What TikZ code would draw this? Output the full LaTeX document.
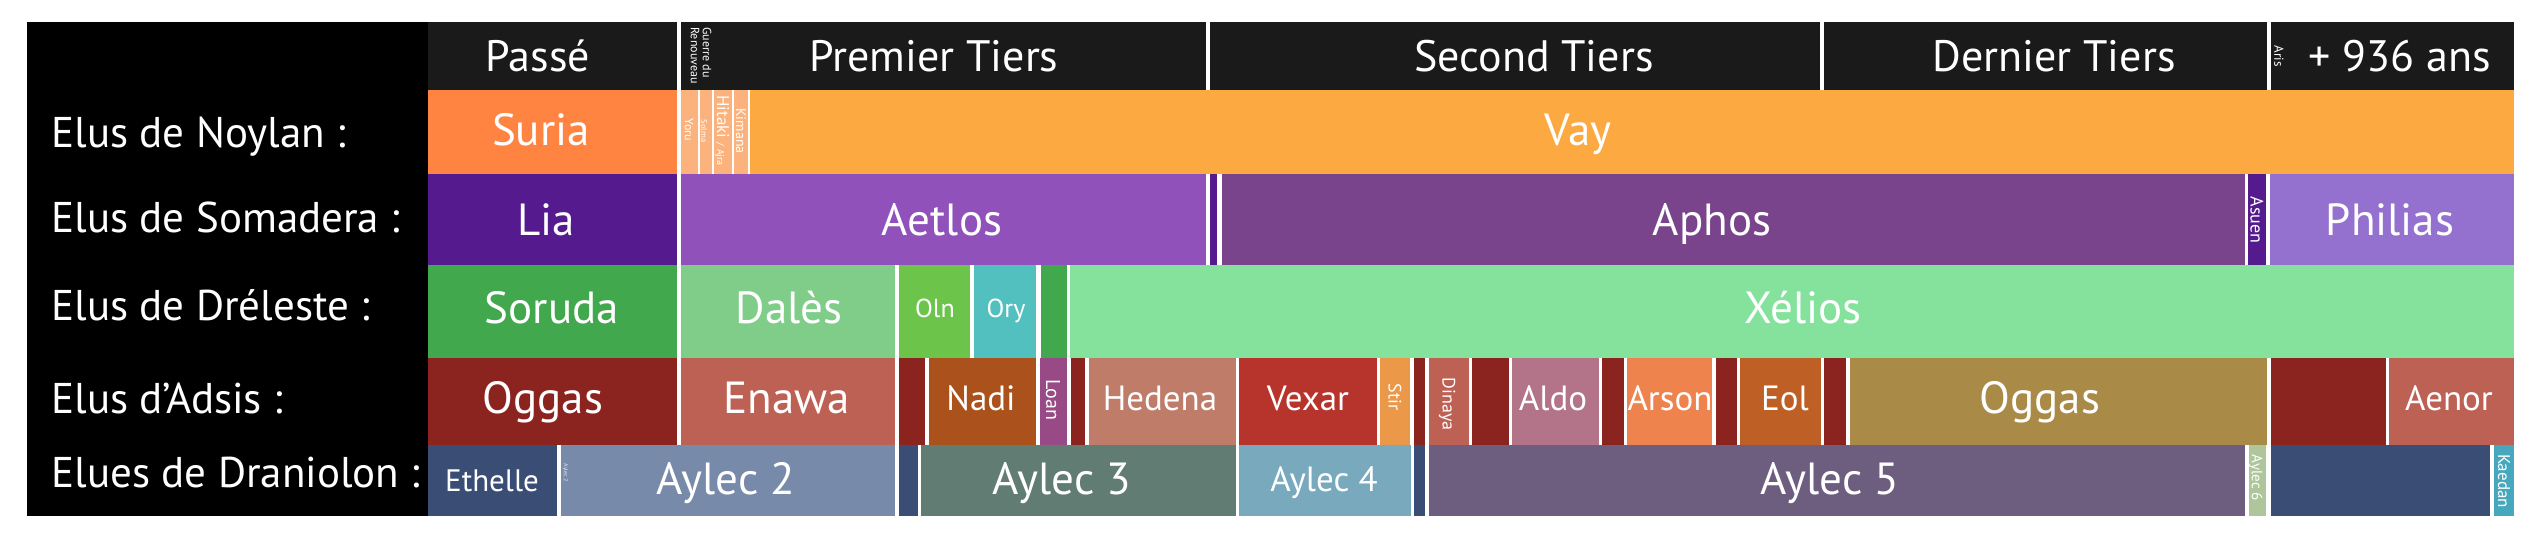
\documentclass[tikz,border=0pt]{standalone}
\usepackage{fontspec}
\setmainfont{PT Sans}

\definecolor{cHead}{HTML}{1A1A1A}
\definecolor{cSuria}{HTML}{FF8442}
\definecolor{cYoru}{HTML}{FCB27C}
\definecolor{cVay}{HTML}{FDA942}
\definecolor{cLia}{HTML}{541A8E}
\definecolor{cAetlos}{HTML}{9052BA}
\definecolor{cAphos}{HTML}{79448C}
\definecolor{cPhilias}{HTML}{9470CF}
\definecolor{cSoruda}{HTML}{42A84E}
\definecolor{cDales}{HTML}{80CD8A}
\definecolor{cOln}{HTML}{6CC54A}
\definecolor{cOry}{HTML}{52C0BE}
\definecolor{cXelios}{HTML}{84E29D}
\definecolor{cAdsis}{HTML}{8B231F}
\definecolor{cEnawa}{HTML}{BE6155}
\definecolor{cNadi}{HTML}{AA511C}
\definecolor{cLoan}{HTML}{984A86}
\definecolor{cHedena}{HTML}{BE7C69}
\definecolor{cVexar}{HTML}{B7342C}
\definecolor{cStir}{HTML}{EB9848}
\definecolor{cAldo}{HTML}{B37389}
\definecolor{cArson}{HTML}{EE834E}
\definecolor{cEol}{HTML}{BE6025}
\definecolor{cOlive}{HTML}{A98A47}
\definecolor{cDran}{HTML}{3A4D74}
\definecolor{cAylecB}{HTML}{778AA9}
\definecolor{cAylecC}{HTML}{617C72}
\definecolor{cAylecD}{HTML}{78A9BC}
\definecolor{cAylecE}{HTML}{6D5E80}
\definecolor{cAylecF}{HTML}{AFC59B}
\definecolor{cKaedan}{HTML}{46A7BD}

\begin{document}
\begin{tikzpicture}[x=0.5pt,y=-0.5pt,
    txt/.style={text=white,inner sep=0pt,text depth=0pt},
    hdtxt/.style={txt,font=\fontsize{22}{24}\selectfont,text height=15.4pt},
    lbltxt/.style={txt,anchor=west,font=\fontsize{21.5}{24}\selectfont,text height=15pt},
    bigtxt/.style={txt,font=\fontsize{22.5}{25}\selectfont,text height=15.7pt},
    midtxt/.style={txt,font=\fontsize{17.5}{20}\selectfont,text height=12.2pt},
    smltxt/.style={txt,font=\fontsize{13}{15}\selectfont,text height=9pt},
    vtxt/.style={txt,rotate=-90,font=\fontsize{#1}{#1}\selectfont,text height=0.7*#1pt},
    vtxt/.default=8]
\useasboundingbox (0,0) rectangle (2532,535);
\fill[white] (0,0) rectangle (2532,535);
\fill[black] (27,22) rectangle (428,516);

% row labels
\node[lbltxt] (lNoylan) at (51,133) {Elus de Noylan :};
\node[lbltxt] (lSomadera) at (51,217) {Elus de Somadera :};
\node[lbltxt] (lDreleste) at (51,305) {Elus de Dréleste :};
\node[lbltxt] (lAdsis) at (51,398) {Elus d'Adsis :};
\node[lbltxt] (lDraniolon) at (51,472) {Elues de Draniolon :};

% header
\foreach \a/\b in {428/677,681/1206,1210/1820,1824/2267,2271/2514}
    \fill[cHead] (\a,22) rectangle (\b,90);
\node[hdtxt] (passe) at (538,56) {Passé};
\node[vtxt=6,anchor=west,align=left] (guerre) at (695,27) {Guerre du\\Renouveau};
\node[hdtxt] (premier) at (934,56) {Premier Tiers};
\node[hdtxt] (second) at (1534,56) {Second Tiers};
\node[hdtxt] (dernier) at (2054,56) {Dernier Tiers};
\node[vtxt=6.5] (aris) at (2279,56) {Aris};
\node[hdtxt] (plus) at (2400,56) {+ 936 ans};

% Noylan
\foreach \a/\b/\c in {428/677/cSuria,681/698/cYoru,700/712/cYoru,714/732/cYoru,
    734/748/cYoru,750/2514/cVay}
    \fill[\c] (\a,90) rectangle (\b,174);
\node[bigtxt] (suria) at (541,130) {Suria};
\node[vtxt=6] (yoru) at (689,130) {Yoru};
\node[vtxt=4.2] (solma) at (704,131) {Solma};
\node[vtxt=8.5,anchor=west] (hitaki) at (723,95) {Hitaki {\fontsize{5}{5}\selectfont / Ajra}};
\node[vtxt=7] (kimana) at (741,131) {Kimana};
\node[bigtxt] (vay) at (1578,130) {Vay};

% Somadera
\foreach \a/\b/\c in {428/677/cLia,681/1206/cAetlos,1210/1217/cLia,1222/2245/cAphos,
    2248/2266/cLia,2270/2514/cPhilias}
    \fill[\c] (\a,174) rectangle (\b,265);
\node[bigtxt] (lia) at (546,220) {Lia};
\node[bigtxt] (aetlos) at (942,220) {Aetlos};
\node[bigtxt] (aphos) at (1712,220) {Aphos};
\node[vtxt=9] (asuen) at (2257,220) {Asuen};
\node[bigtxt] (philias) at (2390,220) {Philias};

% Dreleste
\foreach \a/\b/\c in {428/677/cSoruda,681/895/cDales,899/970/cOln,974/1036/cOry,
    1041/1067/cSoruda,1070/2514/cXelios}
    \fill[\c] (\a,265) rectangle (\b,358);
\node[bigtxt] (soruda) at (552,308) {Soruda};
\node[bigtxt] (dales) at (789,308) {Dalès};
\node[smltxt] (oln) at (935,308) {Oln};
\node[smltxt] (ory) at (1006,308) {Ory};
\node[bigtxt] (xelios) at (1803,308) {Xélios};

% Adsis
\foreach \a/\b/\c in {428/677/cAdsis,681/895/cEnawa,899/925/cAdsis,929/1036/cNadi,
    1040/1067/cLoan,1071/1085/cAdsis,1089/1236/cHedena,1239/1377/cVexar,
    1380/1410/cStir,1414/1425/cAdsis,1429/1469/cEnawa,1472/1509/cAdsis,
    1512/1599/cAldo,1602/1624/cAdsis,1627/1712/cArson,1716/1737/cAdsis,
    1740/1821/cEol,1824/1846/cAdsis,1850/2267/cOlive,2271/2386/cAdsis,
    2389/2514/cEnawa}
    \fill[\c] (\a,358) rectangle (\b,445);
\node[bigtxt] (oggas) at (543,398) {Oggas};
\node[bigtxt] (enawa) at (787,398) {Enawa};
\node[midtxt] (nadi) at (981,398) {Nadi};
\node[vtxt=10] (loan) at (1053,400) {Loan};
\node[midtxt] (hedena) at (1160,398) {Hedena};
\node[midtxt] (vexar) at (1308,398) {Vexar};
\node[vtxt=9] (stir) at (1395,397) {Stir};
\node[vtxt=9] (dinaya) at (1449,404) {Dinaya};
\node[midtxt] (aldo) at (1553,398) {Aldo};
\node[midtxt] (arson) at (1670,398) {Arson};
\node[midtxt] (eol) at (1785,398) {Eol};
\node[bigtxt] (oggasb) at (2040,398) {Oggas};
\node[midtxt] (aenor) at (2449,398) {Aenor};

% Draniolon
\foreach \a/\b/\c in {428/557/cDran,561/895/cAylecB,899/918/cDran,921/1236/cAylecC,
    1239/1411/cAylecD,1414/1425/cDran,1429/2245/cAylecE,2249/2266/cAylecF,
    2271/2490/cDran,2494/2514/cKaedan}
    \fill[\c] (\a,445) rectangle (\b,516);
\node[midtxt,font=\fontsize{15.5}{18}\selectfont] (ethelle) at (492,479) {Ethelle};
\node[vtxt=3,text=white!80!cAylecB] (aylecbb) at (566,473) {Aylec 2};
\node[bigtxt] (aylecb) at (726,479) {Aylec 2};
\node[bigtxt] (aylecc) at (1062,479) {Aylec 3};
\node[midtxt] (aylecd) at (1324,479) {Aylec 4};
\node[bigtxt] (aylece) at (1830,479) {Aylec 5};
\node[vtxt=7.5] (aylecf) at (2257,478) {Aylec 6};
\node[vtxt=8.5] (kaedan) at (2504,481) {Kaedan};
\end{tikzpicture}
\end{document}
